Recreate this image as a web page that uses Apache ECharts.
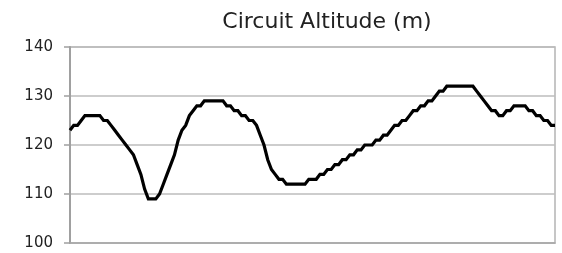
<!DOCTYPE html>
<html>
<head>
<meta charset="utf-8">
<script src="https://cdn.jsdelivr.net/npm/echarts@6/dist/echarts.min.js"></script>
<style>html,body{margin:0;padding:0;background:#fff}#c{width:562px;height:253px}</style>
</head>
<body>
<div id="c"></div>
<script>
const titleText = "Circuit Altitude (m)";
const yTicks = [100, 110, 120, 130, 140];
const altitude = [
  123,124,124,125,126,126,126,126,126,125,
  125,124,123,122,121,120,119,118,116,114,
  111,109,109,109,110,112,114,116,118,121,
  123,124,126,127,128,128,129,129,129,129,
  129,129,128,128,127,127,126,126,125,125,
  124,122,120,117,115,114,113,113,112,112,
  112,112,112,112,113,113,113,114,114,115,
  115,116,116,117,117,118,118,119,119,120,
  120,120,121,121,122,122,123,124,124,125,
  125,126,127,127,128,128,129,129,130,131,
  131,132,132,132,132,132,132,132,132,131,
  130,129,128,127,127,126,126,127,127,128,
  128,128,128,127,127,126,126,125,125,124,
  124
];
const categories = altitude.map((_, i) => String(i + 1));

const chart = echarts.init(document.getElementById('c'), null, {renderer: 'canvas'});
chart.setOption({
  animation: false,
  backgroundColor: '#ffffff',
  title: {
    text: titleText,
    left: 322,
    textAlign: 'center',
    top: 6,
    textStyle: {fontFamily: 'DejaVu Sans', fontSize: 22, fontWeight: 'normal', color: '#222'}
  },
  grid: {
    left: 70, right: 7, top: 47, bottom: 10,
    outerBoundsMode: 'none',
    containLabel: false,
    show: true, borderColor: '#b4b4b4', borderWidth: 1.5
  },
  xAxis: {
    type: 'category',
    data: categories,
    boundaryGap: false,
    axisLine: {show: true, lineStyle: {color: '#a8a8a8', width: 1.5}},
    axisTick: {show: false},
    axisLabel: {show: false},
    splitLine: {show: false}
  },
  yAxis: {
    type: 'value',
    min: yTicks[0],
    max: yTicks[yTicks.length - 1],
    interval: 10,
    axisLine: {show: true, lineStyle: {color: '#a0a0a0', width: 2}},
    axisTick: {show: true, inside: false, length: 6, lineStyle: {color: '#a0a0a0', width: 1.5}},
    axisLabel: {show: true, margin: 17, fontFamily: 'DejaVu Sans', fontSize: 15, color: '#222'},
    splitLine: {show: true, lineStyle: {color: '#bdbdbd', width: 1.5, type: 'solid'}}
  },
  series: [{
    type: 'line',
    data: altitude,
    showSymbol: false,
    symbol: 'none',
    smooth: false,
    lineStyle: {color: '#000', width: 3.2, join: 'miter'}
  }]
});
</script>
</body>
</html>
